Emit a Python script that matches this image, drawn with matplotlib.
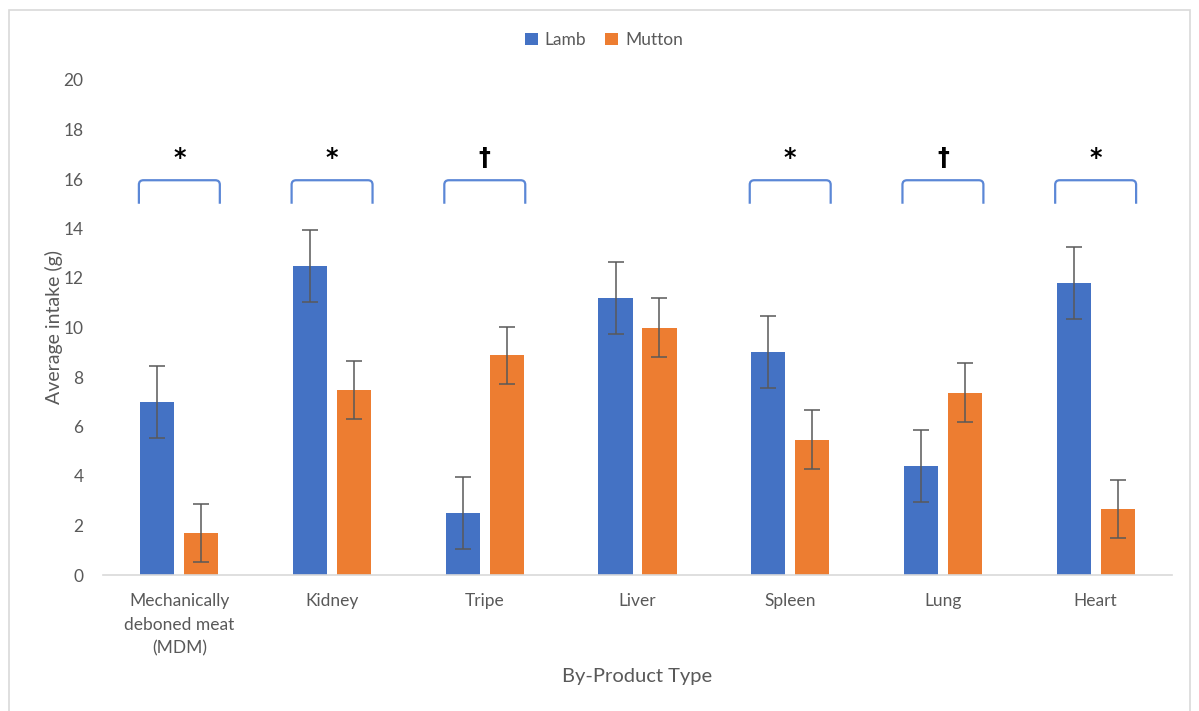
import numpy as np
import matplotlib.pyplot as plt
from matplotlib.patches import Rectangle, PathPatch
from matplotlib.path import Path

categories = ["Mechanically\ndeboned meat\n(MDM)", "Kidney", "Tripe", "Liver",
              "Spleen", "Lung", "Heart"]
lamb = [7.0, 12.5, 2.5, 11.2, 9.0, 4.4, 11.8]
lamb_err = [1.45, 1.45, 1.45, 1.45, 1.45, 1.45, 1.45]
mutton = [1.7, 7.47, 8.87, 10.0, 5.47, 7.37, 2.66]
mutton_err = [1.18, 1.17, 1.17, 1.2, 1.18, 1.18, 1.18]
# significance marks per by-product ("" = no bracket)
signif = ["*", "*", "\u2020", "", "*", "\u2020", "*"]

plt.rcParams['font.family'] = ['Lato', 'DejaVu Sans']
TXT = "#595959"
BLUE = "#4472C4"
ORANGE = "#ED7D31"

W, H = 1199, 711
fig = plt.figure(figsize=(W / 100, H / 100), dpi=100)
ax = fig.add_axes([103 / W, 1 - 575 / H, (1172 - 103) / W, (575 - 80) / H])

x = np.arange(len(categories))
bw = 0.223
off = 0.144
ekw = dict(ecolor="#595959", elinewidth=1.1, capsize=5.5, capthick=1.1)
ax.bar(x - off, lamb, bw, color=BLUE, label="Lamb", yerr=lamb_err, error_kw=ekw)
ax.bar(x + off, mutton, bw, color=ORANGE, label="Mutton", yerr=mutton_err, error_kw=ekw)

ax.set_xlim(-0.5, len(categories) - 0.5)
ax.set_ylim(0, 20)
ax.set_yticks(range(0, 21, 2))
ax.set_xticks(x)
ax.set_xticklabels(categories, fontsize=12.5, color=TXT, linespacing=1.6)
ax.tick_params(axis="y", length=0, pad=14, labelsize=12.5, labelcolor=TXT)
ax.tick_params(axis="x", length=0, pad=13)
for s in ["top", "right", "left"]:
    ax.spines[s].set_visible(False)
ax.spines["bottom"].set_color("#D9D9D9")
ax.spines["bottom"].set_linewidth(1.2)

ax.set_xlabel("By-Product Type", fontsize=14.5, color=TXT, labelpad=8)
ax.set_ylabel("Average intake (g)", fontsize=14, color=TXT, labelpad=0)

# brackets with rounded corners above each significant pair
hw, rx, ry = 0.265, 0.03, 0.18
top, bot = 15.95, 15.0
for i, mark in enumerate(signif):
    if not mark:
        continue
    l, r = i - hw, i + hw
    verts = [(l, bot), (l, top - ry), (l, top), (l + rx, top),
             (r - rx, top), (r, top), (r, top - ry), (r, bot)]
    codes = [Path.MOVETO, Path.LINETO, Path.CURVE3, Path.CURVE3,
             Path.LINETO, Path.CURVE3, Path.CURVE3, Path.LINETO]
    ax.add_patch(PathPatch(Path(verts, codes), fill=False, edgecolor="#5B87D6",
                           lw=1.6, clip_on=False))
    ax.text(i, 16.85, mark, ha="center", va="center", fontsize=17,
            fontweight="bold", color="black", family=['DejaVu Sans'])

fig.legend(loc="center", bbox_to_anchor=(604 / W, 1 - 40 / H), ncol=2,
           frameon=False, fontsize=12.5, handlelength=0.75, handleheight=0.75,
           handletextpad=0.4, columnspacing=1.1, labelcolor=TXT)

# chart area border
fig.add_artist(Rectangle((9 / W, -0.05), (1190 - 9) / W, 1.05 - 10 / H,
                         transform=fig.transFigure, fill=False,
                         edgecolor="#D9D9D9", lw=1.2))

fig.savefig("out.png", dpi=100, facecolor="white")
